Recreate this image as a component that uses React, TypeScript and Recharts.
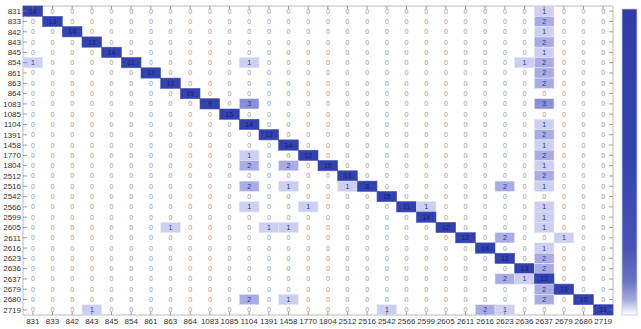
import { ReferenceArea, Scatter, ScatterChart, XAxis, YAxis } from "recharts";

const classes = [
  "831", "833", "842", "843", "845", "854", "861", "863", "864", "1083",
  "1085", "1104", "1391", "1458", "1770", "1804", "2512", "2516", "2542", "2566",
  "2599", "2605", "2611", "2616", "2623", "2636", "2637", "2679", "2680", "2719",
];

// correct predictions (diagonal) - not readable in the picture, estimated
const diagonal = [
  14, 13, 14, 13, 14, 11, 13, 13, 15, 9,
  15, 14, 13, 14, 12, 10, 13, 8, 15, 11,
  14, 12, 12, 14, 13, 13, 12, 13, 10, 11,
];

// [actual, predicted, count]
const misses: [string, string, number][] = [
  ["831", "2637", 1],
  ["833", "2637", 2],
  ["842", "2637", 1],
  ["843", "2637", 2],
  ["845", "2637", 1],
  ["854", "831", 1], ["854", "1104", 1], ["854", "2636", 1], ["854", "2637", 2],
  ["861", "2637", 2],
  ["863", "2637", 2],
  ["1083", "1104", 3], ["1083", "2637", 3],
  ["1104", "2637", 1],
  ["1391", "2637", 2],
  ["1458", "2637", 1],
  ["1770", "1104", 1], ["1770", "2637", 2],
  ["1804", "1104", 2], ["1804", "1458", 2], ["1804", "2637", 1],
  ["2512", "2637", 2],
  ["2516", "1104", 2], ["2516", "1458", 1], ["2516", "2512", 1], ["2516", "2623", 2], ["2516", "2637", 1],
  ["2566", "1104", 1], ["2566", "1770", 1], ["2566", "2599", 1], ["2566", "2637", 1],
  ["2599", "2637", 1],
  ["2605", "863", 1], ["2605", "1391", 1], ["2605", "1458", 1], ["2605", "2637", 1],
  ["2611", "2623", 2], ["2611", "2679", 1],
  ["2616", "2637", 1],
  ["2623", "2637", 2],
  ["2636", "2637", 2],
  ["2637", "2623", 2], ["2637", "2636", 1],
  ["2679", "2637", 2],
  ["2680", "1104", 2], ["2680", "1458", 1], ["2680", "2637", 2],
  ["2719", "843", 1], ["2719", "2542", 1], ["2719", "2616", 2], ["2719", "2623", 1],
];

const W = 641;
const H = 329;
const M = { top: 6, right: 28, bottom: 0, left: 0 };
const Y_AXIS_W = 23;
const X_AXIS_H = 14;
const N = classes.length;
const cellW = (W - M.left - M.right - Y_AXIS_W) / N;
const cellH = (H - M.top - M.bottom - X_AXIS_H) / N;

const shades = ["#ffffff", "#cdcff1", "#a9ace3", "#8b8fd7"];
const DIAG = "#3241ad";
const FONT = "'Liberation Sans', Arial, sans-serif";

interface CellPt {
  x: number;
  y: number;
  v: number;
  diag: boolean;
}

const lookup: Record<string, number> = {};
for (const [a, p, n] of misses) lookup[`${a}|${p}`] = n;

const cells: CellPt[] = [];
classes.forEach((a, r) => {
  classes.forEach((p, c) => {
    const v = r === c ? diagonal[r] : lookup[`${a}|${p}`] ?? 0;
    cells.push({ x: c, y: r, v, diag: r === c });
  });
});

const idx = classes.map((_, i) => i);

const renderCell = (props: any) => {
  const { cx, cy, payload } = props;
  const d = payload as CellPt;
  const x0 = cx - cellW / 2;
  const y0 = cy - cellH / 2;
  let fill = "none";
  let txt = "#9a9a9a";
  if (d.diag) {
    fill = DIAG;
    txt = "#1a2175";
  } else if (d.v > 0) {
    fill = shades[Math.min(d.v, shades.length - 1)];
    txt = "#2e36a0";
  }
  return (
    <g>
      {fill !== "none" && (
        <rect x={x0} y={y0} width={cellW} height={cellH} fill={fill} stroke={d.diag ? "#4a56bb" : "#e4e4f8"} strokeWidth={0.6} />
      )}
      <text x={cx} y={cy + 2.5} textAnchor="middle" fontSize={7} fill={txt} fontFamily={FONT}>
        {d.v}
      </text>
      {d.y === 0 && <line x1={cx} x2={cx} y1={y0} y2={y0 + 3} stroke="#777" strokeWidth={0.7} />}
      {d.y === N - 1 && <line x1={cx} x2={cx} y1={y0 + cellH} y2={y0 + cellH - 3} stroke="#777" strokeWidth={0.7} />}
      {d.x === 0 && <line x1={x0} x2={x0 + 4} y1={cy} y2={cy} stroke="#777" strokeWidth={0.7} />}
      {d.x === N - 1 && <line x1={x0 + cellW} x2={x0 + cellW - 4} y1={cy} y2={cy} stroke="#777" strokeWidth={0.7} />}
    </g>
  );
};

function ColorBar() {
  return (
    <svg width={20} height={H} style={{ position: "absolute", left: 620, top: 0 }}>
      <defs>
        <linearGradient id="cbar" x1="0" y1="0" x2="0" y2="1">
          <stop offset="0%" stopColor="#2f3ca8" />
          <stop offset="50%" stopColor="#3443af" />
          <stop offset="78%" stopColor="#4753b8" />
          <stop offset="89%" stopColor="#6a72c7" />
          <stop offset="95%" stopColor="#a4a8e0" />
          <stop offset="98%" stopColor="#dcdef5" />
          <stop offset="100%" stopColor="#ffffff" />
        </linearGradient>
      </defs>
      <rect x={2} y={9} width={15} height={306} fill="url(#cbar)" stroke="#c8c8c8" strokeWidth={0.8} />
    </svg>
  );
}

export default function App() {
  return (
    <div style={{ position: "absolute", left: 0, top: 0, width: W, height: H, background: "#fff", fontFamily: FONT }}>
      <ScatterChart width={W} height={H} margin={M}>
        <XAxis
          type="number"
          dataKey="x"
          domain={[-0.5, N - 0.5]}
          ticks={idx}
          interval={0}
          tickFormatter={(i: number) => classes[i] ?? ""}
          tickLine={false}
          axisLine={false}
          tickSize={0}
          tickMargin={3}
          height={X_AXIS_H}
          tick={{ fontSize: 8, fill: "#333", fontFamily: FONT }}
        />
        <YAxis
          type="number"
          dataKey="y"
          domain={[-0.5, N - 0.5]}
          reversed
          ticks={idx}
          interval={0}
          tickFormatter={(i: number) => classes[i] ?? ""}
          tickLine={false}
          axisLine={false}
          tickSize={0}
          tickMargin={2}
          width={Y_AXIS_W}
          tick={{ fontSize: 8, fill: "#333", fontFamily: FONT }}
        />
        <Scatter data={cells} shape={renderCell} isAnimationActive={false} />
        <ReferenceArea x1={-0.5} x2={N - 0.5} y1={-0.5} y2={N - 0.5} fill="none" stroke="#a8a8a8" strokeWidth={0.8} />
      </ScatterChart>
      <ColorBar />
    </div>
  );
}
